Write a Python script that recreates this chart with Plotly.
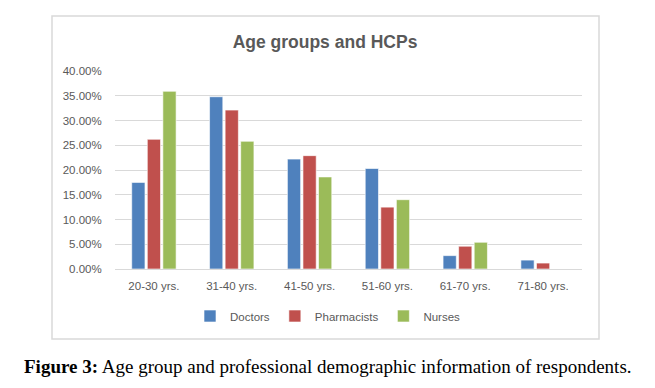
import plotly.graph_objects as go

categories = ["20-30 yrs.", "31-40 yrs.", "41-50 yrs.", "51-60 yrs.", "61-70 yrs.", "71-80 yrs."]
doctors = [0.175, 0.348, 0.222, 0.203, 0.027, 0.018]
pharmacists = [0.262, 0.321, 0.229, 0.125, 0.046, 0.012]
nurses = [0.359, 0.258, 0.186, 0.140, 0.054, 0.0]
series = [("Doctors", doctors, "#4F81BD"), ("Pharmacists", pharmacists, "#C0504D"), ("Nurses", nurses, "#9BBB59")]

fig = go.Figure()
for name, vals, col in series:
    fig.add_trace(go.Bar(x=categories, y=vals, name=name,
                         marker=dict(color=col, line=dict(color="rgba(255,255,255,0.6)", width=1))))

# page body has an 8px margin; all target pixel positions below are page coordinates
OFF = 8
W, H = 655 - OFF, 388 - OFF
L = 115 - OFF
T = 71 - OFF
R = W - (582 - OFF)
B = H - (269 - OFF)
pw, ph = W - L - R, H - T - B


def px(x):
    return (x - OFF - L) / pw


def py(y):
    return (H - B - (y - OFF)) / ph


fig.update_layout(
    width=W, height=H,
    margin=dict(l=L, r=R, t=T, b=B),
    paper_bgcolor="white", plot_bgcolor="white",
    barmode="group", bargap=0.4, bargroupgap=0.15,
    font=dict(family="Liberation Sans", size=11.5, color="#595959"),
    title=dict(text="<b>Age groups and HCPs</b>", xref="paper", x=px(325), xanchor="center",
               yref="container", y=1 - (42 - OFF) / H, yanchor="middle",
               font=dict(family="Liberation Sans", size=17.5, color="#595959")),
    legend=dict(orientation="h", x=px(328), xanchor="center", y=py(316), yanchor="middle",
                font=dict(size=11.5, color="#595959"), traceorder="normal"),
    xaxis=dict(showgrid=False, showline=True, linecolor="#D9D9D9", linewidth=1, ticks="outside", ticklen=6,
               tickcolor="rgba(0,0,0,0)", tickfont=dict(size=11.5, color="#595959")),
    yaxis=dict(range=[0, 0.4], dtick=0.05, tickformat=".2%", showgrid=True, gridcolor="#D9D9D9", gridwidth=1,
               zeroline=False, ticks="outside", ticklen=10, tickcolor="rgba(0,0,0,0)",
               tickfont=dict(size=11.5, color="#595959")),
    shapes=[dict(type="rect", xref="paper", yref="paper", x0=px(52), x1=px(599), y0=py(339), y1=py(16),
                 line=dict(color="#D9D9D9", width=1.5), fillcolor="rgba(0,0,0,0)", layer="below")],
    annotations=[dict(text="<b>Figure 3:</b> Age group and professional demographic information of respondents.",
                      xref="paper", yref="paper", x=px(327.5), y=py(366), xanchor="center", yanchor="middle",
                      showarrow=False, font=dict(family="Liberation Serif", size=19, color="black"))],
)

fig.write_html("out.html")
